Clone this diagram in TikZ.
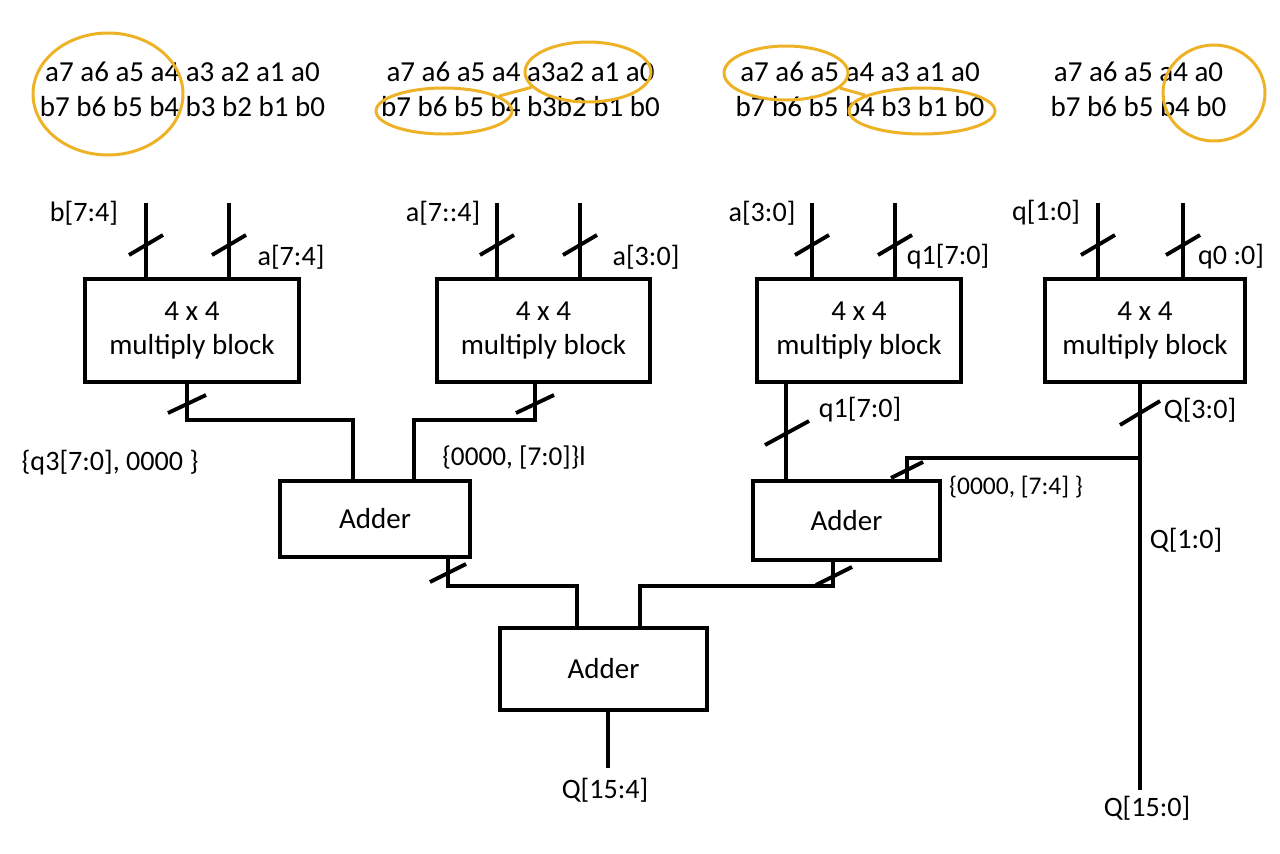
\documentclass[tikz,border=0pt]{standalone}
\usepackage{fontspec}
\setmainfont{Carlito}
\usetikzlibrary{shapes.geometric}
\definecolor{ringgold}{RGB}{238,178,38}
% slanted bus-width tick centred on a coordinate: #1 point, #2 half dx, #3 half dy
\newcommand{\busmark}[3]{\draw[busline] ([shift={(-#2,#3)}]#1) -- ([shift={(#2,-#3)}]#1);}
\begin{document}
\begin{tikzpicture}[x=0.02cm,y=-0.02cm,
  wire/.style={line width=2.3pt},
  busline/.style={line width=2.2pt},
  blockbox/.style={draw, line width=2.3pt, align=center, inner sep=0pt,
    font=\fontsize{16.5}{19}\selectfont},
  lbl/.style={font=\fontsize{16}{19}\selectfont, inner sep=0pt},
  smalllbl/.style={font=\fontsize{14.5}{17}\selectfont, inner sep=0pt},
  bitrow/.style={font=\fontsize{16.5}{19}\selectfont, inner sep=0pt},
  ring/.style={draw=ringgold, line width=1.7pt, ellipse, inner sep=0pt},
  ringlink/.style={draw=ringgold, line width=1.7pt}]

\useasboundingbox (0,0) rectangle (1280,853);

% ---------- operand bit rows ----------
\node[bitrow] (ra1) at (182.5,72)  {a7 a6 a5 a4 a3 a2 a1 a0};
\node[bitrow] (rb1) at (182.5,107) {b7 b6 b5 b4 b3 b2 b1 b0};
\node[bitrow] (ra2) at (520.5,72)  {a7 a6 a5 a4 a3a2 a1 a0};
\node[bitrow] (rb2) at (520.5,107) {b7 b6 b5 b4 b3b2 b1 b0};
\node[bitrow] (ra3) at (860,72)    {a7 a6 a5 a4 a3 a1 a0};
\node[bitrow] (rb3) at (860,107)   {b7 b6 b5 b4 b3 b1 b0};
\node[bitrow] (ra4) at (1138.5,72) {a7 a6 a5 a4 a0};
\node[bitrow] (rb4) at (1138.5,107){b7 b6 b5 b4 b0};

% ---------- highlighted bit groups ----------
\node[ring, minimum width=3.0cm,  minimum height=2.44cm] (e1)  at (108,94)  {};
\node[ring, minimum width=2.52cm, minimum height=1.2cm]  (e2a) at (588,72)  {};
\node[ring, minimum width=2.72cm, minimum height=0.92cm] (e2b) at (444,111) {};
\node[ring, minimum width=2.48cm, minimum height=1.08cm] (e3a) at (786,73)  {};
\node[ring, minimum width=2.92cm, minimum height=0.92cm] (e3b) at (922,111) {};
\node[ring, minimum width=2.04cm, minimum height=1.92cm] (e4)  at (1214,93) {};
\draw[ringlink] (e2b) -- (e2a);
\draw[ringlink] (e3a) -- (e3b);

% ---------- multiply blocks ----------
\node[blockbox, minimum width=4.28cm, minimum height=2.06cm] (mb1) at (192,330.5)   {4 x 4\\multiply block};
\node[blockbox, minimum width=4.26cm, minimum height=2.06cm] (mb2) at (543.5,330.5) {4 x 4\\multiply block};
\node[blockbox, minimum width=4.08cm, minimum height=2.06cm] (mb3) at (859,330.5)   {4 x 4\\multiply block};
\node[blockbox, minimum width=4.0cm,  minimum height=2.06cm] (mb4) at (1145,330.5)  {4 x 4\\multiply block};

% ---------- adders ----------
\node[blockbox, minimum width=3.8cm,  minimum height=1.52cm] (add1) at (375,519)   {Adder};
\node[blockbox, minimum width=3.74cm, minimum height=1.58cm] (add2) at (846.5,520.5) {Adder};
\node[blockbox, minimum width=4.14cm, minimum height=1.64cm] (add3) at (603.5,669) {Adder};

% ---------- block inputs ----------
\coordinate (i1l) at (146,203);  \coordinate (i1r) at (229,203);
\coordinate (i2l) at (497,203);  \coordinate (i2r) at (580,203);
\coordinate (i3l) at (812,203);  \coordinate (i3r) at (895,203);
\coordinate (i4l) at (1098,203); \coordinate (i4r) at (1183,203);
\foreach \c/\b in {i1l/mb1,i1r/mb1,i2l/mb2,i2r/mb2,i3l/mb3,i3r/mb3,i4l/mb4,i4r/mb4}{
  \draw[wire] (\c) -- (\c |- \b.north);
}
\foreach \x in {146,229,497,580,812,895,1098,1183}{
  \coordinate (m) at (\x,245);
  \busmark{m}{17}{10}
}

\node[lbl] (lb1) at (84,213)   {b[7:4]};
\node[lbl] (la1) at (291,257)  {a[7:4]};
\node[lbl] (lb2) at (443,213)  {a[7::4]};
\node[lbl] (la2) at (646,257)  {a[3:0]};
\node[lbl] (lb3) at (762,213)  {a[3:0]};
\node[lbl] (la3) at (948,257)  {q1[7:0]};
\node[lbl] (lb4) at (1046,213) {q[1:0]};
\node[lbl] (la4) at (1231,257) {q0 :0]};

% ---------- block 1 and 2 into first adder ----------
\coordinate (k1a) at (187,420); \coordinate (k1b) at (353,420);
\draw[wire] (k1a |- mb1.south) -- (k1a) -- (k1b) -- (k1b |- add1.north);
\coordinate (k2a) at (535,420); \coordinate (k2b) at (414,420);
\draw[wire] (k2a |- mb2.south) -- (k2a) -- (k2b) -- (k2b |- add1.north);
\coordinate (s1) at (187,404); \busmark{s1}{19}{9}
\coordinate (s2) at (535,404); \busmark{s2}{19}{9}
\node[lbl] (lq3) at (110,463) {\{q3[7:0], 0000 \}};
\node[smalllbl, font=\fontsize{15.5}{18}\selectfont] (lz1) at (514,458) {\{0000, [7:0]\}l};

% ---------- block 3 into second adder ----------
\draw[wire] (mb3.south -| 786,0) -- (add2.north -| 786,0);
\coordinate (s3) at (787,433); \busmark{s3}{22}{12}
\node[lbl] (lq1) at (860,410) {q1[7:0]};

% ---------- block 4: result bus and branch ----------
\coordinate (qend) at (1140,790);
\coordinate (br) at (1140,458);
\coordinate (k4) at (907,458);
\draw[wire] (qend |- mb4.south) -- (qend);
\draw[wire] (br) -- (k4) -- (k4 |- add2.north);
\coordinate (s4) at (1140,413); \busmark{s4}{20}{12}
\coordinate (s5) at (907,470);  \busmark{s5}{16}{8}
\node[lbl] (lQ30) at (1200,410) {Q[3:0]};
\node[smalllbl] (lz2) at (1016,487) {\{0000, [7:4] \}};
\node[lbl] (lQ10) at (1186,540) {Q[1:0]};
\node[lbl] (lQ150) at (1147,808) {Q[15:0]};

% ---------- adders into final adder ----------
\coordinate (k5a) at (448,586); \coordinate (k5b) at (577,586);
\draw[wire] (k5a |- add1.south) -- (k5a) -- (k5b) -- (k5b |- add3.north);
\coordinate (k6a) at (833,586); \coordinate (k6b) at (640,586);
\draw[wire] (k6a |- add2.south) -- (k6a) -- (k6b) -- (k6b |- add3.north);
\coordinate (s6) at (448,573); \busmark{s6}{18}{9}
\coordinate (s7) at (834,576); \busmark{s7}{18}{9}

% ---------- final output ----------
\coordinate (qout) at (608,768);
\draw[wire] (qout |- add3.south) -- (qout);
\node[lbl] (lQ154) at (605,790) {Q[15:4]};

\end{tikzpicture}
\end{document}
